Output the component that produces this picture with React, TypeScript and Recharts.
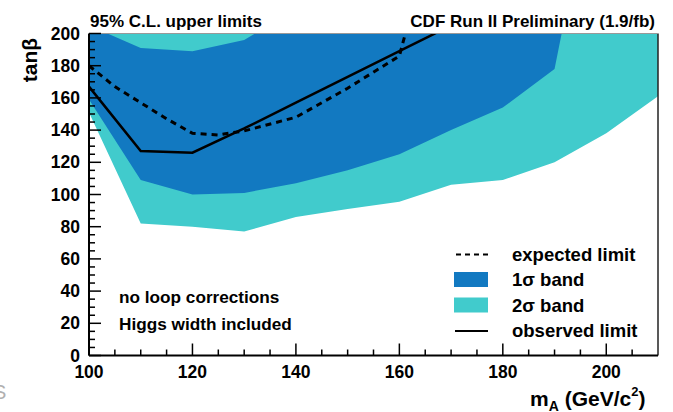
import { ComposedChart, Area, Line, XAxis, YAxis, ReferenceLine } from 'recharts';

// m_A grid points (GeV/c^2) and tan(beta) values
const band2Mass = [100, 110, 120, 130, 140, 150, 160, 170, 180, 190, 200, 210];
const band2Low = [151, 82, 80, 77, 86, 91, 95.5, 106, 109, 120, 138, 161];
const band2High = [250, 250, 250, 250, 250, 250, 250, 250, 250, 250, 250, 250];

const band1Mass = [100, 110, 120, 130, 140, 150, 160, 170, 180, 190, 191.5];
const band1Low = [159, 109, 100, 101, 107, 115, 125, 140, 154, 178, 202];
const band1High = [205, 191, 189, 196, 215, 230, 240, 250, 260, 270, 270];

const expMass = [100, 105, 110, 115, 120, 125, 130, 140, 150, 160, 162];
const expLimit = [180, 167, 157, 147, 138, 137, 139.5, 148, 166, 186, 210];

const obsMass = [100, 110, 120, 130, 140, 150, 160, 170];
const obsLimit = [167, 127, 126, 141, 157, 173, 189, 205];

const xTicks = [100, 105, 110, 115, 120, 125, 130, 135, 140, 145, 150, 155, 160, 165, 170, 175, 180, 185, 190, 195, 200, 205];
const yTicks = [0, 5, 10, 15, 20, 25, 30, 35, 40, 45, 50, 55, 60, 65, 70, 75, 80, 85, 90, 95, 100, 105, 110, 115, 120, 125, 130, 135, 140, 145, 150, 155, 160, 165, 170, 175, 180, 185, 190, 195, 200];

const legendItems = [
  { label: 'expected limit', kind: 'dash' },
  { label: '1σ band', kind: 'band1' },
  { label: '2σ band', kind: 'band2' },
  { label: 'observed limit', kind: 'line' },
];

const band2 = band2Mass.map((m, i) => ({ mA: m, range: [band2Low[i], band2High[i]] }));
const band1 = band1Mass.map((m, i) => ({ mA: m, range: [band1Low[i], band1High[i]] }));
const expected = expMass.map((m, i) => ({ mA: m, tb: expLimit[i] }));
const observed = obsMass.map((m, i) => ({ mA: m, tb: obsLimit[i] }));

const DARK = '#1279c1';
const CYAN = '#41cbcc';
const FONT = '"Liberation Sans", Arial, Helvetica, sans-serif';

function XTick({ x, y, payload }: any) {
  const major = payload.value % 20 === 0;
  return (
    <g>
      <line x1={x} x2={x} y1={y} y2={y - (major ? 12 : 6)} stroke="#000" strokeWidth={1.5} />
      {major && (
        <text x={x} y={y + 22} textAnchor="middle" fontFamily={FONT} fontWeight="bold" fontSize={17.5} fill="#000">
          {payload.value}
        </text>
      )}
    </g>
  );
}

function YTick({ x, y, payload }: any) {
  const major = payload.value % 20 === 0;
  return (
    <g>
      <line x1={x} x2={x + (major ? 12 : 6)} y1={y} y2={y} stroke="#000" strokeWidth={1.5} />
      {major && (
        <text x={x - 9} y={y + 6} textAnchor="end" fontFamily={FONT} fontWeight="bold" fontSize={17.5} fill="#000">
          {payload.value}
        </text>
      )}
    </g>
  );
}

export default function App() {
  return (
    <div style={{ position: 'absolute', left: 0, top: 0, background: '#fff' }}>
      <ComposedChart width={673} height={412} margin={{ top: 33.5, right: 15, bottom: 0, left: 0 }}>
        <XAxis
          dataKey="mA"
          type="number"
          domain={[100, 210]}
          allowDataOverflow
          ticks={xTicks}
          interval={0}
          tickSize={0}
          tickMargin={0}
          tickLine={false}
          height={56.5}
          axisLine={{ stroke: '#000', strokeWidth: 2 }}
          tick={<XTick />}
        />
        <YAxis
          type="number"
          domain={[0, 200]}
          allowDataOverflow
          ticks={yTicks}
          interval={0}
          tickSize={0}
          tickMargin={0}
          tickLine={false}
          width={89}
          axisLine={{ stroke: '#000', strokeWidth: 2 }}
          tick={<YTick />}
        />
        <Area data={band2} dataKey="range" stroke="none" fill={CYAN} fillOpacity={1} isAnimationActive={false} name="2σ band" />
        <Area data={band1} dataKey="range" stroke="none" fill={DARK} fillOpacity={1} isAnimationActive={false} name="1σ band" />
        <Line data={expected} dataKey="tb" stroke="#000" strokeWidth={3} strokeDasharray="6 5" dot={false} isAnimationActive={false} name="expected limit" />
        <Line data={observed} dataKey="tb" stroke="#000" strokeWidth={2.5} dot={false} isAnimationActive={false} name="observed limit" />
        <ReferenceLine x={210} stroke="#222" strokeWidth={1.5} />
        <ReferenceLine y={200} stroke="#999" strokeWidth={1} />

        <text x={90} y={27} fontFamily={FONT} fontWeight="bold" fontSize={17} fill="#000">95% C.L. upper limits</text>
        <text x={655} y={27} textAnchor="end" fontFamily={FONT} fontWeight="bold" fontSize={17} fill="#000">CDF Run II Preliminary (1.9/fb)</text>
        <text transform="translate(37, 60) rotate(-90)" textAnchor="middle" fontFamily={FONT} fontWeight="bold" fontSize={21} fill="#000">tanβ</text>
        <text x={530} y={406} fontFamily={FONT} fontWeight="bold" fontSize={21} fill="#000">
          m<tspan fontSize={14} dy={5}>A</tspan>
          <tspan dy={-5}> (GeV/c</tspan>
          <tspan fontSize={13} dy={-10}>2</tspan>
          <tspan dy={10}>)</tspan>
        </text>
        <text x={-7} y={399} fontFamily={FONT} fontSize={20} fill="#b0b0b0">S</text>
        <text x={119} y={303} fontFamily={FONT} fontWeight="bold" fontSize={17.2} fill="#000">no loop corrections</text>
        <text x={119} y={330} fontFamily={FONT} fontWeight="bold" fontSize={17.2} fill="#000">Higgs width included</text>

        {legendItems.map((it, i) => {
          const cy = 254.5 + i * 25.5;
          return (
            <g key={it.label}>
              {it.kind === 'dash' && <line x1={456} x2={488} y1={cy} y2={cy} stroke="#000" strokeWidth={2} strokeDasharray="5 4" />}
              {it.kind === 'line' && <line x1={455} x2={488} y1={cy} y2={cy} stroke="#000" strokeWidth={2} />}
              {it.kind === 'band1' && <rect x={454} y={cy - 8} width={34} height={15} fill={DARK} />}
              {it.kind === 'band2' && <rect x={454} y={cy - 8} width={34} height={15} fill={CYAN} />}
              <text x={512} y={cy + 6} fontFamily={FONT} fontWeight="bold" fontSize={18.5} fill="#000">{it.label}</text>
            </g>
          );
        })}
      </ComposedChart>
    </div>
  );
}
